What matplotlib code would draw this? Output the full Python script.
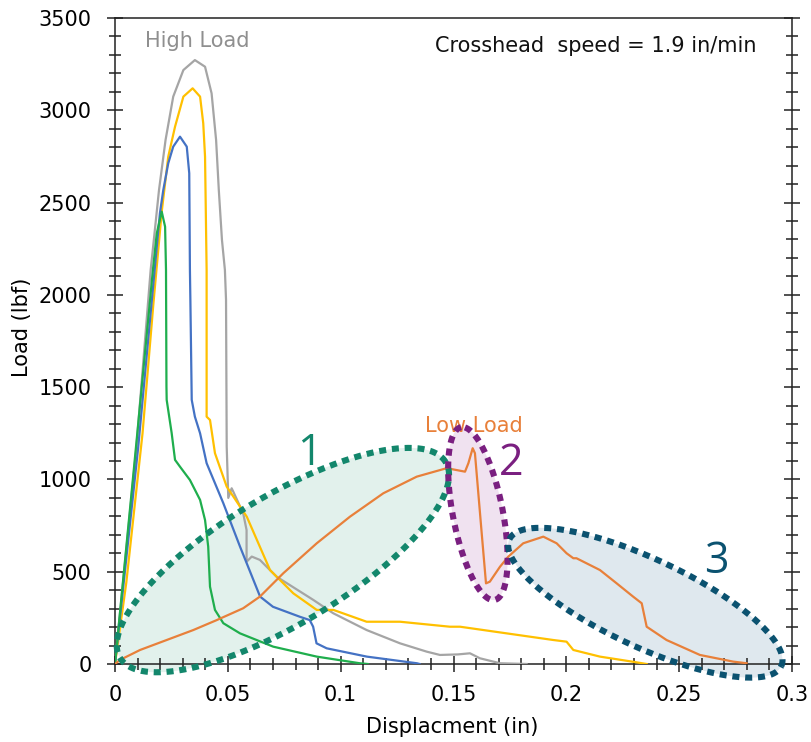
import numpy as np
import matplotlib
matplotlib.use("Agg")
import matplotlib.pyplot as plt
from matplotlib.ticker import MultipleLocator

# ---------------- data ----------------
gray_x = [0, 0.0095, 0.0158, 0.0172, 0.0195, 0.0224, 0.0258, 0.0303, 0.0354, 0.0399,
          0.0428, 0.0448, 0.0460, 0.0474, 0.0487, 0.0492, 0.0495, 0.0502, 0.0517, 0.0524,
          0.0568, 0.0583, 0.0583, 0.0606, 0.0642, 0.0716, 0.0879, 0.0967, 0.1115, 0.1263,
          0.1381, 0.1440, 0.1520, 0.1573, 0.1617, 0.1706, 0.1824]
gray_y = [0, 1176, 2135, 2297, 2568, 2839, 3074, 3218, 3272, 3236,
          3092, 2839, 2568, 2297, 2135, 1973, 1178, 900, 952, 934,
          817, 726, 554, 582, 564, 473, 347, 275, 184, 112,
          67, 49, 52, 58, 31, 4, 0]

yellow_x = [0, 0.0050, 0.0122, 0.0170, 0.0207, 0.0236, 0.0266, 0.0303, 0.0344, 0.0377,
            0.0391, 0.0399, 0.0406, 0.0406, 0.0421, 0.0443, 0.0495, 0.0584, 0.0687, 0.0790,
            0.0894, 0.0968, 0.1115, 0.1189, 0.1263, 0.1484, 0.1529, 0.1942, 0.2001, 0.2031,
            0.2149, 0.2296, 0.2356]
yellow_y = [0, 440, 1250, 1950, 2450, 2749, 2911, 3074, 3119, 3074,
            2930, 2749, 2135, 1340, 1322, 1142, 961, 798, 509, 383,
            293, 293, 229, 229, 229, 202, 202, 130, 121, 76,
            40, 12, 0]

blue_x = [0, 0.0103, 0.0199, 0.0214, 0.0236, 0.0258, 0.0288, 0.0318, 0.0329, 0.0332,
          0.0334, 0.0340, 0.0354, 0.0377, 0.0406, 0.0480, 0.0554, 0.0643, 0.0700, 0.0819,
          0.0863, 0.0878, 0.0893, 0.0938, 0.1116, 0.1338, 0.1350]
blue_y = [0, 1176, 2442, 2568, 2713, 2803, 2857, 2803, 2659, 2135,
          1973, 1431, 1340, 1250, 1088, 871, 636, 365, 310, 256,
          238, 202, 112, 85, 40, 4, 0]

green_x = [0, 0.0093, 0.0168, 0.0185, 0.0207, 0.0222, 0.0226, 0.0228, 0.0229, 0.0251,
           0.0266, 0.0288, 0.0332, 0.0377, 0.0399, 0.0413, 0.0421, 0.0443, 0.0480, 0.0554,
           0.0701, 0.0894, 0.1085, 0.1120]
green_y = [0, 1176, 2135, 2333, 2451, 2369, 2135, 1503, 1431, 1252,
           1106, 1069, 997, 889, 780, 636, 419, 293, 221, 166,
           94, 40, 4, 0]

orange_x = [0, 0.0022, 0.0111, 0.0229, 0.0347, 0.0451, 0.0568, 0.0642, 0.0746, 0.0894,
            0.1041, 0.1189, 0.1337, 0.1470, 0.1551, 0.1566, 0.1585, 0.1595, 0.1610, 0.1625,
            0.1644, 0.1661, 0.1706, 0.1743, 0.1809, 0.1898, 0.1957, 0.2001, 0.2031, 0.2045,
            0.2149, 0.2223, 0.2296, 0.2334, 0.2356, 0.2444, 0.2592, 0.2739, 0.2799]
orange_y = [0, 22, 76, 130, 184, 238, 302, 365, 492, 654,
            798, 925, 1015, 1061, 1042, 1088, 1169, 1142, 925, 708,
            437, 446, 527, 582, 654, 690, 654, 600, 573, 573,
            509, 437, 365, 329, 202, 130, 49, 13, 4]

x_ticks = [0, 0.05, 0.1, 0.15, 0.2, 0.25, 0.3]
x_tick_labels = ["0", "0.05", "0.1", "0.15", "0.2", "0.25", "0.3"]
y_ticks = [0, 500, 1000, 1500, 2000, 2500, 3000, 3500]
y_tick_labels = ["0", "500", "1000", "1500", "2000", "2500", "3000", "3500"]

# region ellipses: centre (data), semi-axes (pixels), angle (deg)
region_labels = ["1", "2", "3"]
region_centers = [(0.0744, 563), (0.1608, 815), (0.2350, 332)]
region_axes_px = [(190, 64), (88, 25), (150, 44)]
region_angles = [31, 101, -25]

# ---------------- figure ----------------
W, H, DPI = 811, 742, 100
fig = plt.figure(figsize=(W / DPI, H / DPI), dpi=DPI)
ax_l, ax_r, ax_t, ax_b = 115, 792, 18, 664
ax = fig.add_axes([ax_l / W, 1 - ax_b / H, (ax_r - ax_l) / W, (ax_b - ax_t) / H])
XMAX, YMAX = 0.3, 3500
ax.set_xlim(0, XMAX)
ax.set_ylim(0, YMAX)
xs_px = (ax_r - ax_l) / XMAX
ys_px = (ax_b - ax_t) / YMAX

FONT = "DejaVu Sans"

# ellipses
edge_cols = ["#13876c", "#7a1f80", "#0b5270"]
fill_cols = ["#e2f1ec", "#f0e2f0", "#dfe8ee"]
t = np.linspace(0, 2 * np.pi, 400)
for i, (c, (a, b), ang) in enumerate(zip(region_centers, region_axes_px, region_angles)):
    th = np.deg2rad(ang)
    dx = a * np.cos(t) * np.cos(th) - b * np.sin(t) * np.sin(th)
    dy = a * np.cos(t) * np.sin(th) + b * np.sin(t) * np.cos(th)
    ex = c[0] + dx / xs_px
    ey = c[1] + dy / ys_px
    ax.fill(ex, ey, color=fill_cols[i], zorder=1 + 0.1 * i, clip_on=False, lw=0)
    ax.plot(ex, ey, color=edge_cols[i], lw=4.4, ls=(0, (1.15, 0.95)),
            dash_capstyle="butt", zorder=5 + 0.1 * i, clip_on=False)

# curves
lw = 1.6
ax.plot(gray_x, gray_y, color="#a5a5a5", lw=lw, zorder=3)
ax.plot(yellow_x, yellow_y, color="#ffc000", lw=lw, zorder=3)
ax.plot(blue_x, blue_y, color="#4472c4", lw=lw, zorder=3)
ax.plot(green_x, green_y, color="#1fae4d", lw=lw, zorder=3)
ax.plot(orange_x, orange_y, color="#e8803a", lw=lw, zorder=3)

# ticks and spines
for s in ax.spines.values():
    s.set_linewidth(1.1)
    s.set_color("#222222")
ax.set_xticks(x_ticks)
ax.set_xticklabels(x_tick_labels)
ax.set_yticks(y_ticks)
ax.set_yticklabels(y_tick_labels)
ax.xaxis.set_minor_locator(MultipleLocator(0.01))
ax.yaxis.set_minor_locator(MultipleLocator(100))
ax.tick_params(which="major", direction="inout", length=12, width=1.1, color="#222222",
               right=True, top=False, labelsize=15)
ax.tick_params(which="minor", direction="inout", length=8, width=1.1, color="#222222",
               right=True, top=False)
ax.tick_params(axis="x", which="major", pad=9)
ax.tick_params(axis="y", which="major", pad=11)
for lab in ax.get_xticklabels() + ax.get_yticklabels():
    lab.set_fontfamily(FONT)

# axis labels
fig.text((452) / W, 1 - 733 / H, "Displacment (in)", ha="center", va="baseline",
         fontsize=15, family=FONT)
fig.text(22 / W, 1 - 327 / H, "Load (lbf)", ha="center", va="center", rotation=90,
         fontsize=15, family=FONT)

# annotations
ax.text(0.0133, 3344, "High Load", color="#8f8f8f", fontsize=15, family=FONT,
        ha="left", va="baseline")
ax.text(0.1418, 3318, "Crosshead  speed = 1.9 in/min", color="#111111", fontsize=15,
        family=FONT, ha="left", va="baseline")
ax.text(0.1374, 1259, "Low Load", color="#e8803a", fontsize=15, family=FONT,
        ha="left", va="baseline")
label_pos = [(0.0860, 1078), (0.1757, 1024), (0.2663, 493)]
for lab, (lx, ly), col in zip(region_labels, label_pos, edge_cols):
    ax.text(lx, ly, lab, color=col, fontsize=31, family="Open Sans", ha="center",
            va="baseline", zorder=6)

fig.savefig("out.png", dpi=DPI)
